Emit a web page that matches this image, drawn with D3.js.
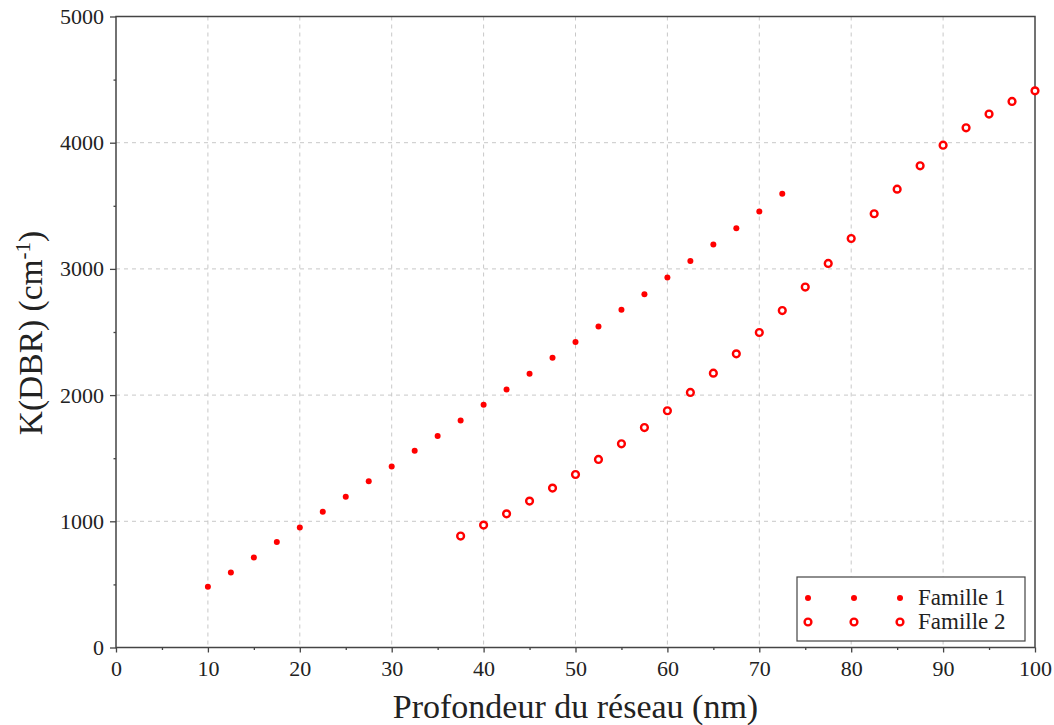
<!DOCTYPE html>
<html><head><meta charset="utf-8">
<script src="https://cdn.jsdelivr.net/npm/d3@7"></script>
<style>
body{margin:0;background:#fff;}
svg text{font-family:"Liberation Serif","Times New Roman",serif;fill:#222;}
</style></head>
<body>
<svg id="chart" width="1054" height="725"></svg>
<script>
const depth1 = [10,12.5,15,17.5,20,22.5,25,27.5,30,32.5,35,37.5,40,42.5,45,47.5,50,52.5,55,57.5,60,62.5,65,67.5,70,72.5];
const kFam1 = [481,594,713,835,951,1075,1194,1318,1434,1559,1675,1799,1923,2045,2170,2296,2420,2544,2676,2800,2932,3062,3193,3323,3455,3595];
const depth2 = [37.5,40,42.5,45,47.5,50,52.5,55,57.5,60,62.5,65,67.5,70,72.5,75,77.5,80,82.5,85,87.5,90,92.5,95,97.5,100];
const kFam2 = [883,970,1059,1160,1263,1371,1490,1614,1743,1876,2021,2174,2327,2496,2670,2856,3043,3241,3437,3632,3817,3980,4118,4227,4327,4411];
const xTicks = [0,10,20,30,40,50,60,70,80,90,100];
const yTicks = [0,1000,2000,3000,4000,5000];
const xMinor = [5,15,25,35,45,55,65,75,85,95];
const yMinor = [500,1500,2500,3500,4500];
const seriesNames = ["Famille 1","Famille 2"];

const svg = d3.select("#chart");
const L=116, R=1035, T=16.5, B=647.5;
const x = d3.scaleLinear().domain([0,100]).range([L,R]);
const y = d3.scaleLinear().domain([0,5000]).range([B,T]);
const red = "#ff0000", axisCol = "#444";

// grid
svg.append("g").selectAll("line").data(xTicks.filter(d=>d>0&&d<100)).join("line")
  .attr("x1",d=>x(d)).attr("x2",d=>x(d)).attr("y1",T).attr("y2",B)
  .attr("stroke","#c8c8c8").attr("stroke-width",1).attr("stroke-dasharray","4,4");
svg.append("g").selectAll("line").data(yTicks.filter(d=>d>0&&d<5000)).join("line")
  .attr("y1",d=>y(d)).attr("y2",d=>y(d)).attr("x1",L).attr("x2",R)
  .attr("stroke","#c8c8c8").attr("stroke-width",1).attr("stroke-dasharray","4,4");

// axes
const xAxis = svg.append("g").attr("transform",`translate(0,${B})`)
  .call(d3.axisBottom(x).tickValues(xTicks).tickSize(5).tickPadding(8).tickFormat(d3.format("d")));
const yAxis = svg.append("g").attr("transform",`translate(${L},0)`)
  .call(d3.axisLeft(y).tickValues(yTicks).tickSize(6).tickPadding(6).tickFormat(d3.format("d")));
[xAxis,yAxis].forEach(a=>{
  a.select(".domain").remove();
  a.selectAll(".tick line").attr("stroke",axisCol).attr("stroke-width",1.3);
  a.selectAll(".tick text").attr("font-size",22).attr("font-family","Liberation Serif, serif").attr("fill","#222");
});
svg.append("g").attr("transform",`translate(0,${B})`)
  .call(d3.axisBottom(x).tickValues(xMinor).tickSize(2.5).tickFormat(""))
  .call(g=>{g.select(".domain").remove();g.selectAll("line").attr("stroke",axisCol).attr("stroke-width",1.3);});
svg.append("g").attr("transform",`translate(${L},0)`)
  .call(d3.axisLeft(y).tickValues(yMinor).tickSize(2.5).tickFormat(""))
  .call(g=>{g.select(".domain").remove();g.selectAll("line").attr("stroke",axisCol).attr("stroke-width",1.3);});

// frame
svg.append("rect").attr("x",L).attr("y",T).attr("width",R-L).attr("height",B-T)
  .attr("fill","none").attr("stroke",axisCol).attr("stroke-width",1.5);

// data
svg.append("g").selectAll("circle").data(depth1.map((d,i)=>[d,kFam1[i]])).join("circle")
  .attr("cx",d=>x(d[0])).attr("cy",d=>y(d[1])).attr("r",3).attr("fill",red);
svg.append("g").selectAll("circle").data(depth2.map((d,i)=>[d,kFam2[i]])).join("circle")
  .attr("cx",d=>x(d[0])).attr("cy",d=>y(d[1])).attr("r",3.4)
  .attr("fill","#fff").attr("stroke",red).attr("stroke-width",2.4);

// titles
svg.append("text").attr("x",(L+R)/2).attr("y",718).attr("text-anchor","middle")
  .attr("font-size",34).text("Profondeur du réseau (nm)");
const yt = svg.append("text").attr("transform",`translate(42,${(T+B)/2 + 1}) rotate(-90)`)
  .attr("text-anchor","middle").attr("font-size",33.5);
yt.append("tspan").text("K(DBR) (cm");
yt.append("tspan").attr("font-size",21).attr("dy",-12).text("-1");
yt.append("tspan").attr("dy",12).text(")");

// legend
const lg = svg.append("g");
lg.append("rect").attr("x",797).attr("y",577).attr("width",228).attr("height",64)
  .attr("fill","#fff").attr("stroke",axisCol).attr("stroke-width",1.2);
const mx = [808,854,900];
seriesNames.forEach((name,i)=>{
  const yy = 598 + i*24;
  mx.forEach(px=>{
    const c = lg.append("circle").attr("cx",px).attr("cy",yy);
    if(i===0) c.attr("r",3).attr("fill",red);
    else c.attr("r",3.4).attr("fill","#fff").attr("stroke",red).attr("stroke-width",2.4);
  });
  lg.append("text").attr("x",918).attr("y",yy+7).attr("font-size",23).text(name);
});
</script>
</body></html>
